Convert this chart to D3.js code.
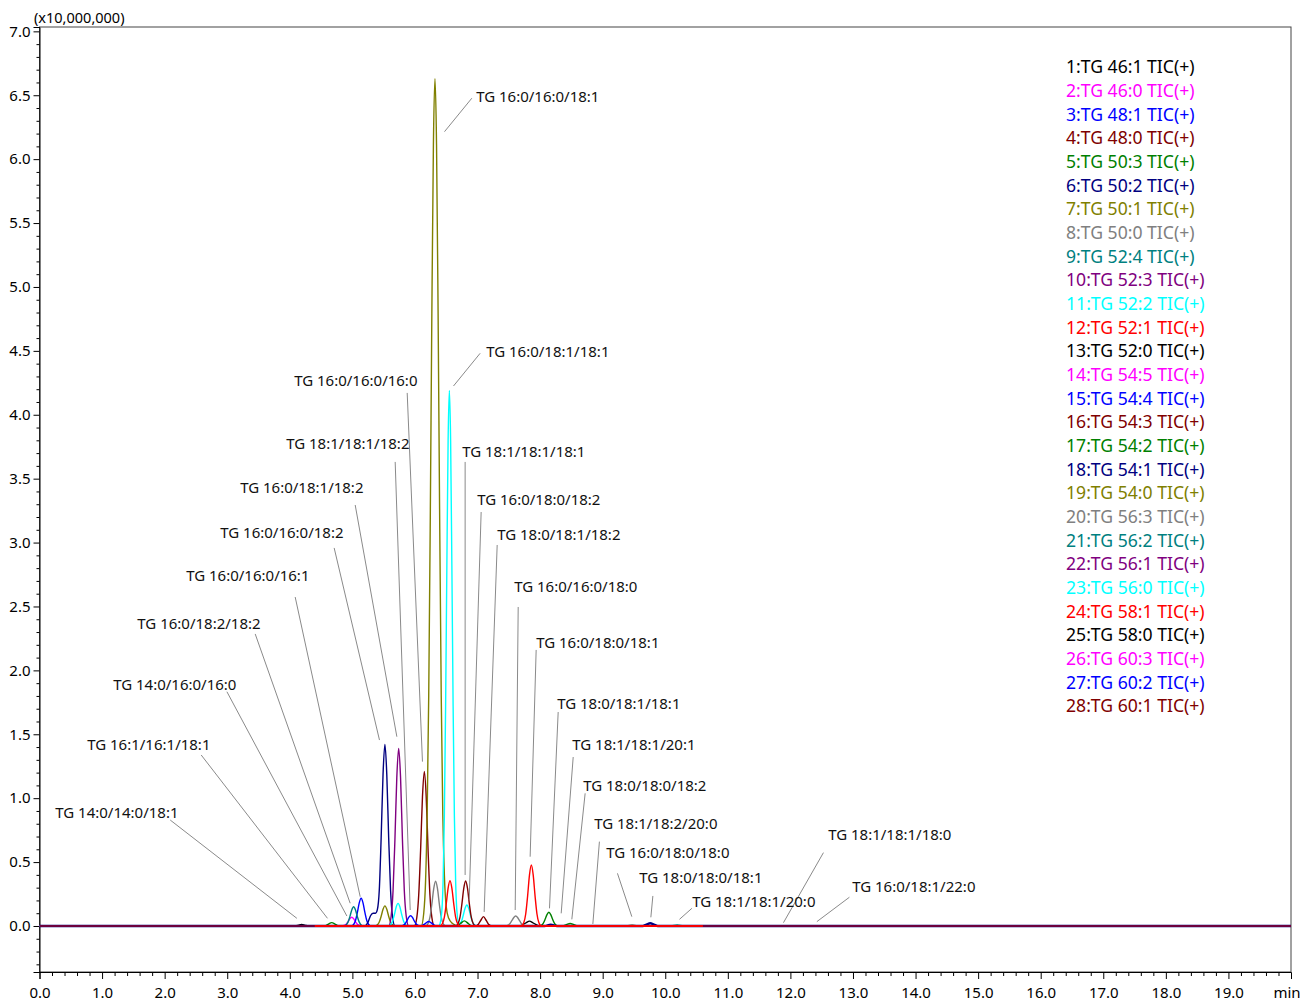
<!DOCTYPE html>
<html>
<head>
<meta charset="utf-8">
<script src="https://cdn.jsdelivr.net/npm/d3@7/dist/d3.min.js"></script>
<style>
  html, body { margin: 0; padding: 0; background: #fff; }
  svg { display: block; }
  text { font-family: "Noto Sans", "Open Sans", sans-serif; }
</style>
</head>
<body>
<svg id="chart" width="1301" height="1001"></svg>
<script>
// ---- Compound names (legend) ----
const seriesNames = [
  "TG 46:1", "TG 46:0", "TG 48:1", "TG 48:0", "TG 50:3", "TG 50:2", "TG 50:1",
  "TG 50:0", "TG 52:4", "TG 52:3", "TG 52:2", "TG 52:1", "TG 52:0", "TG 54:5",
  "TG 54:4", "TG 54:3", "TG 54:2", "TG 54:1", "TG 54:0", "TG 56:3", "TG 56:2",
  "TG 56:1", "TG 56:0", "TG 58:1", "TG 58:0", "TG 60:3", "TG 60:2", "TG 60:1"
];

const seriesColors = [
  "#000000", "#ff00ff", "#0000ff", "#800000", "#008000", "#000080", "#808000",
  "#808080", "#008080", "#800080", "#00ffff", "#ff0000", "#000000", "#ff00ff",
  "#0000ff", "#800000", "#008000", "#000080", "#808000", "#808080", "#008080",
  "#800080", "#00ffff", "#ff0000", "#000000", "#ff00ff", "#0000ff", "#800000"
];

// ---- Ion chromatograms: [retention time (min), intensity (x10,000,000)] ----
const tic01 = [[0,0],[4.09,0],[4.14,0.007],[4.19,0.013],[4.24,0.007],[4.29,0],[20,0]];
const tic02 = [[0,0],[4.83,0],[4.87,0.004],[4.90,0.013],[4.93,0.033],[4.96,0.057],[4.99,0.068],[5.02,0.057],[5.05,0.033],[5.08,0.013],[5.11,0.004],[5.15,0],[20,0]];
const tic03 = [[0,0],[4.98,0],[5.02,0.012],[5.05,0.043],[5.08,0.106],[5.11,0.181],[5.14,0.217],[5.17,0.181],[5.20,0.106],[5.23,0.043],[5.26,0.012],[5.30,0],[20,0]];
const tic04 = [[0,0],[5.99,0],[6.03,0.068],[6.06,0.240],[6.09,0.589],[6.12,1.010],[6.15,1.21],[6.18,1.010],[6.21,0.589],[6.24,0.240],[6.27,0.068],[6.31,0],[20,0]];
const tic05 = [[0,0],[4.55,0],[4.61,0.013],[4.67,0.026],[4.73,0.013],[4.79,0],[20,0]];
const tic06 = [[0,0],[5.20,0],[5.25,0.03],[5.29,0.08],[5.33,0.10],[5.37,0.10],[5.40,0.13],[5.43,0.281],[5.46,0.692],[5.49,1.186],[5.52,1.42],[5.55,1.186],[5.58,0.692],[5.61,0.281],[5.64,0.080],[5.68,0],[20,0]];
const tic07 = [[0,0],[5.36,0],[5.40,0.009],[5.43,0.031],[5.46,0.076],[5.49,0.131],[5.52,0.157],[5.55,0.131],[5.58,0.076],[5.61,0.031],[5.64,0.009],[5.68,0],
               [6.10,0],[6.14,0.098],[6.17,0.355],[6.195,0.87],[6.22,1.80],[6.245,3.19],[6.27,4.79],[6.295,6.113],[6.32,6.63],[6.345,6.113],[6.37,4.79],[6.395,3.19],[6.42,1.80],[6.445,0.87],[6.47,0.40],[6.50,0.15],[6.54,0.06],[6.60,0.02],[6.70,0],[20,0]];
const tic08 = [[0,0],[6.17,0],[6.21,0.020],[6.24,0.069],[6.27,0.170],[6.30,0.292],[6.33,0.35],[6.36,0.292],[6.39,0.170],[6.42,0.069],[6.45,0.020],[6.49,0],[20,0]];
const tic09 = [[0,0],[4.86,0],[4.90,0.008],[4.93,0.030],[4.96,0.073],[4.99,0.125],[5.02,0.15],[5.05,0.125],[5.08,0.073],[5.11,0.030],[5.14,0.008],[5.18,0],[20,0]];
const tic10 = [[0,0],[5.58,0],[5.62,0.078],[5.65,0.275],[5.68,0.677],[5.71,1.161],[5.74,1.39],[5.77,1.161],[5.80,0.677],[5.83,0.275],[5.86,0.078],[5.90,0],[20,0]];
const tic11 = [[0,0],[5.57,0],[5.61,0.010],[5.64,0.035],[5.67,0.086],[5.70,0.148],[5.73,0.177],[5.76,0.148],[5.79,0.086],[5.82,0.035],[5.85,0.010],[5.89,0],
               [6.38,0],[6.40,0.016],[6.43,0.119],[6.45,0.354],[6.47,0.863],[6.49,1.72],[6.51,2.82],[6.53,3.80],[6.55,4.19],[6.57,3.80],[6.59,2.82],[6.61,1.72],[6.63,0.863],[6.65,0.354],[6.67,0.119],[6.70,0.02],
               [6.74,0.032],[6.77,0.080],[6.80,0.137],[6.83,0.164],[6.86,0.137],[6.89,0.080],[6.92,0.032],[6.95,0.009],[6.99,0],[20,0]];
const tic12 = [[4.4,0],[6.40,0],[6.44,0.020],[6.47,0.070],[6.50,0.173],[6.53,0.296],[6.56,0.355],[6.59,0.296],[6.62,0.173],[6.65,0.070],[6.68,0.020],[6.72,0],
               [7.70,0],[7.74,0.027],[7.77,0.094],[7.80,0.232],[7.83,0.398],[7.86,0.477],[7.89,0.398],[7.92,0.232],[7.95,0.094],[7.98,0.027],[8.02,0],[10.6,0]];
const tic13 = [[0,0],[7.67,0],[7.73,0.012],[7.78,0.027],[7.83,0.038],[7.88,0.027],[7.93,0.012],[7.99,0],[20,0]];
const tic14 = [[0,0],[20,0]];
const tic15 = [[0,0],[5.77,0],[5.81,0.004],[5.84,0.016],[5.87,0.039],[5.90,0.067],[5.93,0.08],[5.96,0.067],[5.99,0.039],[6.02,0.016],[6.05,0.004],[6.09,0],[6.16,0.017],[6.22,0.035],[6.28,0.017],[6.34,0],[20,0]];
const tic16 = [[0,0],[6.65,0],[6.69,0.020],[6.72,0.069],[6.75,0.171],[6.78,0.294],[6.81,0.352],[6.84,0.294],[6.87,0.171],[6.90,0.069],[6.93,0.020],[6.97,0],[7.01,0.012],[7.05,0.043],[7.095,0.073],[7.14,0.043],[7.18,0.012],[7.24,0],[20,0]];
const tic17 = [[0,0],[6.67,0],[6.73,0.02],[6.79,0.04],[6.85,0.02],[6.91,0],[7.98,0],[8.02,0.006],[8.05,0.021],[8.08,0.052],[8.11,0.089],[8.14,0.107],[8.17,0.089],[8.20,0.052],[8.23,0.021],[8.26,0.006],[8.30,0],[8.36,0],[8.42,0.01],[8.48,0.02],[8.54,0.01],[8.60,0],[20,0]];
const tic18 = [[0,0],[8.07,0],[8.17,0.01],[8.27,0],[9.64,0],[9.70,0.011],[9.76,0.022],[9.82,0.011],[9.88,0],[20,0]];
const tic19 = [[0,0],[20,0]];
const tic20 = [[0,0],[7.45,0],[7.49,0.007],[7.52,0.02],[7.55,0.043],[7.58,0.067],[7.61,0.078],[7.64,0.067],[7.67,0.043],[7.70,0.02],[7.73,0.007],[7.77,0],[9.37,0],[9.47,0.01],[9.57,0],[20,0]];
const tic21 = [[0,0],[10.09,0],[10.19,0.008],[10.29,0],[20,0]];
const tic22 = [[0,0],[20,0]];
const tic23 = [[0,0],[20,0]];
const tic24 = [[4.4,0],[10.6,0]];
const tic25 = [[0,0],[20,0]];
const tic26 = [[0,0],[20,0]];
const tic27 = [[0,0],[20,0]];
const tic28 = [[0,0],[20,0]];

const seriesData = [tic01, tic02, tic03, tic04, tic05, tic06, tic07, tic08, tic09, tic10,
  tic11, tic12, tic13, tic14, tic15, tic16, tic17, tic18, tic19, tic20,
  tic21, tic22, tic23, tic24, tic25, tic26, tic27, tic28];

// ---- Axis ticks ----
const xMajorTicks = d3.range(0, 20, 1);
const xMinorTicks = d3.range(0, 100).map(i => i * 0.2).filter(v => Math.abs(v - Math.round(v)) > 1e-6);
const yMajorTicks = [0.0, 0.5, 1.0, 1.5, 2.0, 2.5, 3.0, 3.5, 4.0, 4.5, 5.0, 5.5, 6.0, 6.5, 7.0];
const yMinorTicks = d3.range(-3, 71).map(i => i / 10).filter(v => Math.abs(v * 2 - Math.round(v * 2)) > 1e-6);

// ---- Peak annotations: label anchor [t, v], leader line from [t, v] to [t, v] ----
const peakLabels = [
  { text: "TG 16:0/16:0/18:1", at: [6.978, 6.487], from: [6.909, 6.477], to: [6.472, 6.215] },
  { text: "TG 16:0/18:1/18:1", at: [7.138, 4.491], from: [7.042, 4.481], to: [6.616, 4.225] },
  { text: "TG 16:0/16:0/16:0", at: [4.070, 4.264], from: [5.876, 4.171], to: [6.120, 1.286] },
  { text: "TG 18:1/18:1/18:2", at: [3.942, 3.772], from: [5.684, 3.631], to: [5.924, 0.125] },
  { text: "TG 16:0/18:1/18:2", at: [3.207, 3.427], from: [5.045, 3.294], to: [5.711, 1.481] },
  { text: "TG 16:0/16:0/18:2", at: [2.888, 3.075], from: [4.709, 2.958], to: [5.433, 1.455] },
  { text: "TG 16:0/16:0/16:1", at: [2.344, 2.739], from: [4.086, 2.574], to: [5.125, 0.229] },
  { text: "TG 16:0/18:2/18:2", at: [1.563, 2.363], from: [3.447, 2.285], to: [4.965, 0.178] },
  { text: "TG 14:0/16:0/16:0", at: [1.177, 1.886], from: [2.995, 1.833], to: [4.912, 0.078] },
  { text: "TG 16:1/16:1/18:1", at: [0.762, 1.416], from: [2.584, 1.338], to: [4.602, 0.060] },
  { text: "TG 14:0/14:0/18:1", at: [0.251, 0.884], from: [2.089, 0.829], to: [4.113, 0.060] },
  { text: "TG 18:1/18:1/18:1", at: [6.754, 3.709], from: [6.802, 3.631], to: [6.802, 0.399] },
  { text: "TG 16:0/18:0/18:2", at: [6.994, 3.333], from: [7.058, 3.239], to: [6.867, 0.203] },
  { text: "TG 18:0/18:1/18:2", at: [7.314, 3.059], from: [7.314, 2.981], to: [7.106, 0.110] },
  { text: "TG 16:0/16:0/18:0", at: [7.585, 2.653], from: [7.650, 2.496], to: [7.602, 0.125] },
  { text: "TG 16:0/18:0/18:1", at: [7.937, 2.214], from: [7.937, 2.160], to: [7.841, 0.542] },
  { text: "TG 18:0/18:1/18:1", at: [8.273, 1.737], from: [8.289, 1.674], to: [8.150, 0.138] },
  { text: "TG 18:1/18:1/20:1", at: [8.513, 1.416], from: [8.529, 1.322], to: [8.337, 0.099] },
  { text: "TG 18:0/18:0/18:2", at: [8.688, 1.095], from: [8.720, 1.038], to: [8.507, 0.052] },
  { text: "TG 18:1/18:2/20:0", at: [8.864, 0.798], from: [8.948, 0.660], to: [8.843, 0.016] },
  { text: "TG 16:0/18:0/18:0", at: [9.056, 0.571], from: [9.236, 0.412], to: [9.466, 0.073] },
  { text: "TG 18:0/18:0/18:1", at: [9.583, 0.376], from: [9.802, 0.235], to: [9.770, 0.068] },
  { text: "TG 18:1/18:1/20:0", at: [10.430, 0.188], from: [10.425, 0.138], to: [10.227, 0.052] },
  { text: "TG 18:1/18:1/18:0", at: [12.603, 0.712], from: [12.528, 0.574], to: [11.889, 0.026] },
  { text: "TG 16:0/18:1/22:0", at: [12.987, 0.305], from: [12.943, 0.225], to: [12.423, 0.034] }
];

// ---- Layout ----
const plot = { left: 39.5, top: 27, right: 1291, bottom: 972 };
const svg = d3.select("#chart");

const x = d3.scaleLinear().domain([0, 20]).range([plot.left, plot.right]);
const y = d3.scaleLinear().domain([-0.36, 7.034]).range([plot.bottom, plot.top]);

svg.append("defs").append("clipPath").attr("id", "plotClip")
  .append("rect")
  .attr("x", plot.left).attr("y", plot.top)
  .attr("width", plot.right - plot.left).attr("height", plot.bottom - plot.top);

// frame
svg.append("rect")
  .attr("x", plot.left).attr("y", plot.top)
  .attr("width", plot.right - plot.left).attr("height", plot.bottom - plot.top)
  .attr("fill", "none").attr("stroke", "#444").attr("stroke-width", 1);

// ---- Axes ----
const tickFont = "15px";

const xAxisMinor = d3.axisBottom(x).tickValues(xMinorTicks).tickSize(4).tickFormat("");
const xAxisMajor = d3.axisBottom(x).tickValues(xMajorTicks).tickSize(7).tickPadding(8).tickFormat(d3.format(".1f"));
svg.append("g").attr("transform", `translate(0,${plot.bottom})`).call(xAxisMinor)
  .call(g => g.select(".domain").remove());
const gx = svg.append("g").attr("transform", `translate(0,${plot.bottom})`).call(xAxisMajor);
gx.select(".domain").attr("stroke", "#000");
gx.selectAll("text").style("font-size", tickFont).attr("fill", "#000");

svg.append("text")
  .attr("x", 1287).attr("y", 993).attr("dy", "0.35em")
  .attr("text-anchor", "middle").style("font-size", tickFont)
  .text("min");

const yAxisMinor = d3.axisLeft(y).tickValues(yMinorTicks).tickSize(3).tickFormat("");
const yAxisMajor = d3.axisLeft(y).tickValues(yMajorTicks).tickSize(6).tickPadding(3).tickFormat(d3.format(".1f"));
svg.append("g").attr("transform", `translate(${plot.left},0)`).call(yAxisMinor)
  .call(g => g.select(".domain").remove());
const gy = svg.append("g").attr("transform", `translate(${plot.left},0)`).call(yAxisMajor);
gy.select(".domain").attr("stroke", "#000");
gy.selectAll("text").style("font-size", tickFont).attr("fill", "#000");

svg.append("text")
  .attr("x", 34).attr("y", 23)
  .style("font-size", "14.5px")
  .text("(x10,000,000)");

// ---- Chromatogram traces ----
const line = d3.line()
  .x(d => x(d[0]))
  .y(d => y(d[1]))
  .curve(d3.curveMonotoneX);

// red traces go on top of the stack
const drawOrder = d3.range(seriesData.length)
  .sort((a, b) => (seriesColors[a] === "#ff0000") - (seriesColors[b] === "#ff0000") || a - b);

const traces = svg.append("g").attr("clip-path", "url(#plotClip)");
drawOrder.forEach(i => {
  traces.append("path")
    .datum(seriesData[i])
    .attr("d", line)
    .attr("fill", "none")
    .attr("stroke", seriesColors[i])
    .attr("stroke-width", i === 17 ? 2.4 : 1.4)
    .attr("stroke-linejoin", "round");
});

// ---- Peak labels ----
const ann = svg.append("g");
ann.selectAll("line").data(peakLabels).join("line")
  .attr("x1", d => x(d.from[0])).attr("y1", d => y(d.from[1]))
  .attr("x2", d => x(d.to[0])).attr("y2", d => y(d.to[1]))
  .attr("stroke", "#8a8a8a").attr("stroke-width", 1);
ann.selectAll("text").data(peakLabels).join("text")
  .attr("x", d => x(d.at[0])).attr("y", d => y(d.at[1]))
  .attr("dy", "0.35em")
  .style("font-size", "15px")
  .attr("fill", "#111")
  .text(d => d.text);

// ---- Legend ----
const legend = svg.append("g");
legend.selectAll("text").data(seriesNames).join("text")
  .attr("x", 1066)
  .attr("y", (d, i) => 67 + i * 23.67)
  .attr("dy", "0.35em")
  .style("font-size", "17.6px")
  .attr("fill", (d, i) => seriesColors[i])
  .text((d, i) => `${i + 1}:${d} TIC(+)`);
</script>
</body>
</html>
